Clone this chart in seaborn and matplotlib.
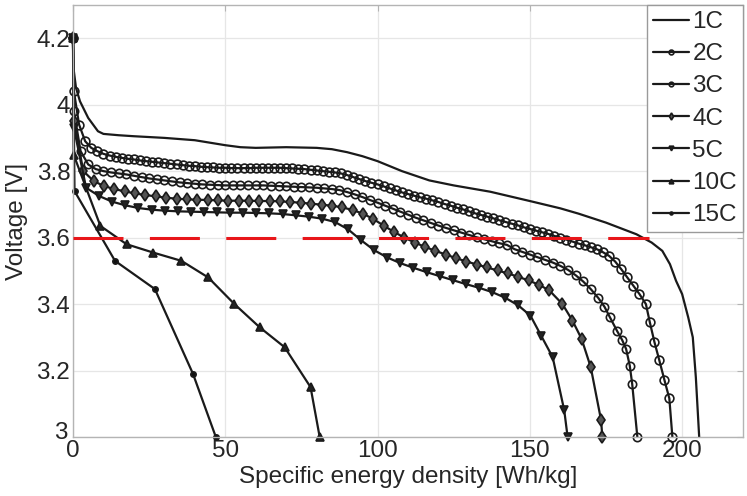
import matplotlib
matplotlib.use("Agg")
import matplotlib.pyplot as plt
from matplotlib.transforms import ScaledTranslation
import seaborn as sns

# ---------------- data ----------------
labels = ["1C", "2C", "3C", "4C", "5C", "10C", "15C"]

x_1c = [0, 0.3, 1, 2.3, 5, 8.2, 10, 15, 20, 30, 40, 50, 55, 60, 70, 80, 85, 90, 95,
        100, 108, 117, 125, 137, 150, 160, 166, 175, 185, 190, 193.5, 196, 198, 200,
        202, 203.5, 204.5, 205.6]
v_1c = [4.20, 4.10, 4.05, 4.01, 3.96, 3.92, 3.912, 3.908, 3.905, 3.900, 3.893, 3.878,
        3.872, 3.870, 3.872, 3.870, 3.866, 3.857, 3.845, 3.830, 3.800, 3.772, 3.757,
        3.738, 3.710, 3.688, 3.672, 3.645, 3.610, 3.585, 3.560, 3.520, 3.470, 3.430,
        3.360, 3.300, 3.180, 3.000]

x_2c = [0, 0.3, 2, 4, 6, 8, 10, 12, 14, 16, 18, 20, 22, 24, 26, 28, 30, 32, 34, 36,
        38, 40, 42, 44, 46, 48, 50, 52, 54, 56, 58, 60, 62, 64, 66, 68, 70, 72, 74, 76,
        78, 80, 82, 84, 86, 88, 90, 92, 94, 96, 98, 100, 102, 104, 106, 108, 110, 112,
        114, 116, 118, 120, 122, 124, 126, 128, 130, 132, 134, 136, 138, 140, 142, 144,
        146, 148, 150, 152, 154, 156, 158, 160, 162, 164, 166, 168, 170, 172, 174, 176,
        178, 180, 182, 184, 186, 188.1, 189.4, 190.9, 192.5, 194.2, 195.8, 196.8]
v_2c = [4.20, 4.04, 3.94, 3.89, 3.87, 3.86, 3.852, 3.847, 3.843, 3.840, 3.837, 3.835,
        3.832, 3.830, 3.828, 3.826, 3.824, 3.822, 3.820, 3.818, 3.816, 3.815, 3.813,
        3.812, 3.811, 3.810, 3.810, 3.809, 3.809, 3.809, 3.809, 3.810, 3.810, 3.810,
        3.810, 3.810, 3.809, 3.808, 3.807, 3.806, 3.804, 3.802, 3.800, 3.798, 3.796,
        3.793, 3.788, 3.782, 3.776, 3.770, 3.765, 3.760, 3.754, 3.748, 3.742, 3.736,
        3.731, 3.726, 3.721, 3.717, 3.712, 3.707, 3.701, 3.696, 3.690, 3.685, 3.679,
        3.673, 3.668, 3.663, 3.658, 3.652, 3.647, 3.642, 3.637, 3.631, 3.626, 3.621,
        3.616, 3.611, 3.605, 3.600, 3.594, 3.588, 3.582, 3.577, 3.571, 3.565, 3.556,
        3.545, 3.528, 3.505, 3.480, 3.455, 3.430, 3.400, 3.345, 3.286, 3.231, 3.171,
        3.116, 3.000]

x_3c = [0, 0.3, 2.5, 5, 7.5, 10, 12.5, 15, 17.5, 20, 22.5, 25, 27.5, 30, 32.5, 35,
        37.5, 40, 42.5, 45, 47.5, 50, 52.5, 55, 57.5, 60, 62.5, 65, 67.5, 70, 72.5, 75,
        77.5, 80, 82.5, 85, 87.5, 90, 92.5, 95, 97.5, 100, 102.5, 105, 107.5, 110,
        112.5, 115, 117.5, 120, 122.5, 125, 127.5, 130, 132.5, 135, 137.5, 140, 142.5,
        145, 147.5, 150, 152.5, 155, 157.5, 160, 162.5, 165, 167.5, 170, 172.5, 174.5,
        176.3, 178.7, 180.3, 181.6, 182.8, 183.6, 185.3]
v_3c = [4.20, 3.98, 3.86, 3.82, 3.806, 3.800, 3.796, 3.793, 3.790, 3.786, 3.782,
        3.778, 3.775, 3.772, 3.769, 3.766, 3.764, 3.762, 3.760, 3.759, 3.758, 3.757,
        3.757, 3.757, 3.757, 3.757, 3.757, 3.756, 3.755, 3.754, 3.753, 3.752, 3.751,
        3.750, 3.748, 3.746, 3.743, 3.737, 3.730, 3.722, 3.713, 3.705, 3.696, 3.687,
        3.678, 3.669, 3.660, 3.652, 3.644, 3.636, 3.629, 3.622, 3.615, 3.608, 3.601,
        3.595, 3.589, 3.583, 3.578, 3.565, 3.557, 3.549, 3.541, 3.533, 3.525, 3.515,
        3.503, 3.487, 3.468, 3.445, 3.418, 3.392, 3.360, 3.318, 3.292, 3.265, 3.215,
        3.160, 3.000]

x_4c = [0, 0.3, 3.4, 6.8, 10.2, 13.6, 17, 20.4, 23.8, 27.2, 30.6, 34, 37.4, 40.8,
        44.2, 47.6, 51, 54.4, 57.8, 61.2, 64.6, 68, 71.4, 74.8, 78.2, 81.6, 85, 88.4,
        91.8, 95.2, 98.6, 102, 105.4, 108.8, 112.2, 115.6, 119, 122.4, 125.8, 129.2,
        132.6, 136, 139.4, 142.8, 146.2, 149.6, 153, 156.4, 160.7, 164, 167, 170,
        173.4, 173.8]
v_4c = [4.20, 3.95, 3.80, 3.770, 3.755, 3.746, 3.739, 3.733, 3.728, 3.724, 3.720,
        3.717, 3.715, 3.714, 3.713, 3.712, 3.711, 3.711, 3.711, 3.710, 3.710, 3.709,
        3.707, 3.705, 3.702, 3.699, 3.696, 3.691, 3.683, 3.672, 3.656, 3.636, 3.617,
        3.600, 3.585, 3.572, 3.560, 3.549, 3.538, 3.528, 3.519, 3.510, 3.501, 3.492,
        3.482, 3.471, 3.458, 3.441, 3.400, 3.350, 3.295, 3.210, 3.050, 3.000]

x_5c = [0, 0.3, 4.3, 8.6, 12.9, 17.2, 21.5, 25.8, 30.1, 34.4, 38.7, 43, 47.3, 51.6,
        55.9, 60.2, 64.5, 68.8, 73.1, 77.4, 81.7, 86, 90.3, 94.6, 98.9, 103.2, 107.5,
        111.8, 116.1, 120.4, 124.7, 129, 133.3, 137.6, 141.9, 146.2, 150.2, 153.7,
        157.5, 161.3, 162.4]
v_5c = [4.20, 3.93, 3.750, 3.725, 3.708, 3.697, 3.689, 3.684, 3.681, 3.679, 3.678,
        3.677, 3.676, 3.675, 3.675, 3.674, 3.673, 3.671, 3.667, 3.663, 3.657, 3.647,
        3.625, 3.592, 3.562, 3.540, 3.523, 3.509, 3.496, 3.484, 3.472, 3.460, 3.449,
        3.436, 3.419, 3.396, 3.365, 3.305, 3.240, 3.080, 3.000]

x_10c = [0, 0.2, 9, 17.6, 26.3, 35.6, 44.4, 53, 61.3, 69.5, 78, 81]
v_10c = [4.20, 3.85, 3.635, 3.58, 3.555, 3.53, 3.48, 3.40, 3.33, 3.27, 3.15, 3.00]

x_15c = [0, 0.5, 13.8, 26.9, 39.4, 46.9]
v_15c = [4.20, 3.74, 3.53, 3.445, 3.19, 3.00]

cutoff_x = [0, 189]
cutoff_v = [3.6, 3.6]

x_ticks = [0, 50, 100, 150, 200]
x_ticklabels = ["0", "50", "100", "150", "200"]
y_ticks = [3.0, 3.2, 3.4, 3.6, 3.8, 4.0, 4.2]
y_ticklabels = ["3", "3.2", "3.4", "3.6", "3.8", "4", "4.2"]

# ---------------- style ----------------
sns.set_theme(style="whitegrid")
plt.rcParams["font.family"] = ["Liberation Sans", "DejaVu Sans"]
plt.rcParams["lines.scale_dashes"] = False

FS = 17.5
TXT = "#262626"
INK = "#1a1a1a"

fig = plt.figure(figsize=(7.47, 4.96), dpi=100)
fig.patch.set_facecolor("white")
ax = fig.add_axes([0.0977, 0.119, 0.897, 0.871])
ax.set_facecolor("white")

series = [
    ("1C", x_1c, v_1c, dict(marker=None)),
    ("2C", x_2c, v_2c, dict(marker="o", markersize=6.3, markerfacecolor="none")),
    ("3C", x_3c, v_3c, dict(marker="o", markersize=6.0, markerfacecolor="none")),
    ("4C", x_4c, v_4c, dict(marker="d", markersize=6.5, markerfacecolor="#555555")),
    ("5C", x_5c, v_5c, dict(marker="v", markersize=6.0, markerfacecolor="#222222")),
    ("10C", x_10c, v_10c, dict(marker="^", markersize=6.0, markerfacecolor="#222222")),
    ("15C", x_15c, v_15c, dict(marker="o", markersize=3.8, markerfacecolor="#111111")),
]

for lab, xs, vs, st in series:
    sns.lineplot(x=xs, y=vs, ax=ax, label=lab, color=INK, linewidth=1.6,
                 sort=False, estimator=None, clip_on=False,
                 markeredgecolor=INK, markeredgewidth=1.2, **st)

ax.plot(cutoff_x, cutoff_v, color="#e8161a", linewidth=2.2,
        linestyle=(0, (36, 19)), zorder=5)

ax.set_xlim(0, 220)
ax.set_ylim(3.0, 4.3)
ax.set_xticks(x_ticks)
ax.set_xticklabels(x_ticklabels)
ax.set_yticks(y_ticks)
ax.set_yticklabels(y_ticklabels)

ax.grid(True, color="#e6e6e6", linewidth=0.9)
for s in ax.spines.values():
    s.set_visible(True)
    s.set_color("#b4b4b4")
    s.set_linewidth(1.0)

ax.tick_params(axis="both", which="major", direction="in", length=4, width=0.8,
               color="#b4b4b4", labelsize=FS, labelcolor=TXT,
               top=True, right=True, pad=2)

# lift the bottom y tick label ("3") a little so it sits beside the x "0"
lbl3 = ax.get_yticklabels()[0]
lbl3.set_transform(lbl3.get_transform()
                   + ScaledTranslation(-2 / 72, 5 / 72, fig.dpi_scale_trans))

ax.set_xlabel("Specific energy density [Wh/kg]", fontsize=FS, color=TXT, labelpad=3)
ax.set_ylabel("Voltage [V]", fontsize=FS, color=TXT)
ax.yaxis.set_label_coords(-0.067, 0.5)

leg = ax.legend(loc="upper right", fontsize=FS, frameon=True, fancybox=False,
                framealpha=1, edgecolor="#9a9a9a", borderaxespad=0.0,
                handlelength=1.5, handletextpad=0.12, labelspacing=0.42,
                borderpad=0.25, markerscale=0.55)
leg.get_frame().set_linewidth(1.0)
for t in leg.get_texts():
    t.set_color(TXT)

fig.savefig("out.png", dpi=100, facecolor="white")
